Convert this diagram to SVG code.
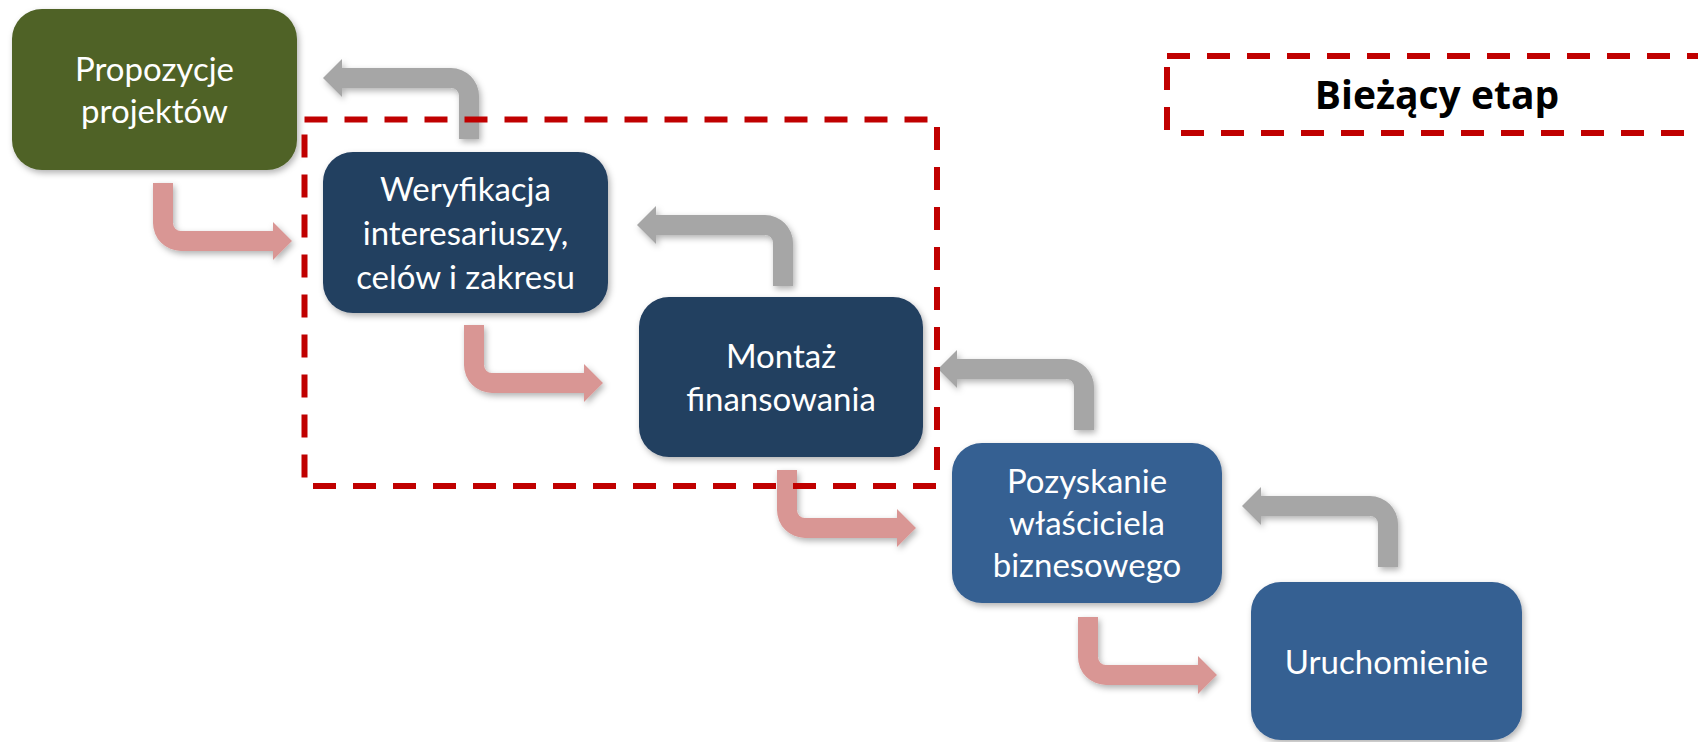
<svg xmlns="http://www.w3.org/2000/svg" width="1698" height="742" viewBox="0 0 1698 742">
<defs>
<filter id="sh" x="-10%" y="-10%" width="130%" height="130%">
<feDropShadow dx="2" dy="3" stdDeviation="3" flood-color="#000" flood-opacity="0.3"/>
</filter>
<path id="pinkArrow" d="M0,0 H20 V40 A8,8 0 0 0 28,48 H120 V39 L139,58 L120,77 V68 H28 A28,28 0 0 1 0,40 Z"/>
<path id="grayArrow" d="M0,0 H-20 V-43 A8,8 0 0 0 -28,-51 H-137 V-42 L-156,-61 L-137,-80 V-71 H-28 A28,28 0 0 1 0,-43 Z"/>
</defs>
<style>
.box{filter:url(#sh)}
.t{font-family:Lato,"Open Sans","Liberation Sans",sans-serif;font-size:33px;fill:#fff;text-anchor:middle}
.pink{fill:#D99694;filter:url(#sh)}
.gray{fill:#A6A6A6;filter:url(#sh)}
.dash{fill:none;stroke:#C00000;stroke-width:6;stroke-dasharray:23 17}
.leg{font-family:"Open Sans","Noto Sans","Liberation Sans",sans-serif;font-size:39px;font-weight:bold;fill:#000;text-anchor:middle}
</style>
<rect width="1698" height="742" fill="#fff"/>

<g id="n1"><rect class="box" x="12" y="9" width="285" height="161" rx="30" fill="#4F6228"/>
<text class="t" x="154.5" y="81">Propozycje</text><text class="t" x="154.5" y="123">projektów</text></g>

<g id="n2"><rect class="box" x="323" y="152" width="285" height="161" rx="30" fill="#243F60"/>
<text class="t" x="465.5" y="201">Weryfikacja</text><text class="t" x="465.5" y="245">interesariuszy,</text><text class="t" x="465.5" y="289">celów i zakresu</text></g>

<g id="n3"><rect class="box" x="639" y="297" width="284" height="160" rx="30" fill="#243F60"/>
<text class="t" x="781" y="368">Montaż</text><text class="t" x="781" y="411">finansowania</text></g>

<g id="n4"><rect class="box" x="952" y="443" width="270" height="160" rx="30" fill="#366092"/>
<text class="t" x="1087" y="493">Pozyskanie</text><text class="t" x="1087" y="535">właściciela</text><text class="t" x="1087" y="577">biznesowego</text></g>

<g id="n5"><rect class="box" x="1251" y="582" width="271" height="158" rx="30" fill="#366092"/>
<text class="t" x="1386.5" y="674">Uruchomienie</text></g>

<g id="connectors">
<use href="#pinkArrow" class="pink" transform="translate(153,183)"/>
<use href="#pinkArrow" class="pink" transform="translate(464,325)"/>
<use href="#pinkArrow" class="pink" transform="translate(777,470)"/>
<use href="#pinkArrow" class="pink" transform="translate(1078,617)"/>
<use href="#grayArrow" class="gray" transform="translate(479,139)"/>
<use href="#grayArrow" class="gray" transform="translate(793,286)"/>
<use href="#grayArrow" class="gray" transform="translate(1094,430)"/>
<use href="#grayArrow" class="gray" transform="translate(1398,567)"/>
</g>

<g id="current-stage">
<rect class="dash" x="304.5" y="119.5" width="632.5" height="366.5"/>
</g>

<g id="legend">
<rect class="dash" x="1167" y="56" width="560" height="77"/>
<text class="leg" x="1437" y="109">Bieżący etap</text>
</g>
</svg>
